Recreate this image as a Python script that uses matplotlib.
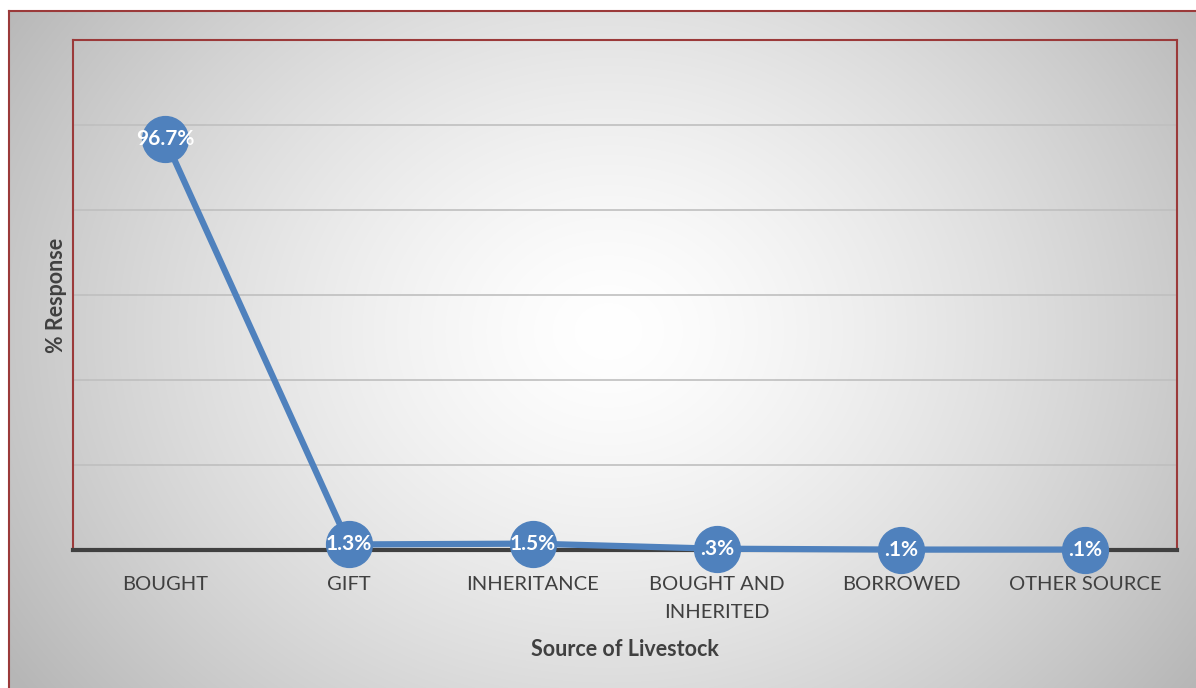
import numpy as np
import matplotlib
matplotlib.use("Agg")
import matplotlib.pyplot as plt

plt.rcParams['font.family'] = ['Lato', 'DejaVu Sans']

categories = ["BOUGHT", "GIFT", "INHERITANCE", "BOUGHT AND\nINHERITED", "BORROWED", "OTHER SOURCE"]
values = [96.7, 1.3, 1.5, 0.3, 0.1, 0.1]
value_labels = ["96.7%", "1.3%", "1.5%", ".3%", ".1%", ".1%"]

W, H = 1196, 688
fig = plt.figure(figsize=(W / 100, H / 100), dpi=100)
fig.patch.set_facecolor("white")

# radial grey-to-white background inside the chart frame
bg = fig.add_axes([8 / W, 0, 1 - 8 / W, 1 - 11 / H], zorder=-10)
yy, xx = np.mgrid[0:677, 0:1188]
cx, cy = 600, 320
r = np.sqrt((xx - cx) ** 2 + ((yy - cy) * 1.2) ** 2) / 660.0
shade = 1.0 - 0.25 * np.clip(r, 0, 1.1) ** 1.4
bg.imshow(np.dstack([shade] * 3), aspect="auto", extent=[0, 1, 0, 1], origin="upper")
bg.set_xlim(0, 1)
bg.set_ylim(0, 1)
bg.axis("off")
fig.add_artist(plt.Line2D([8.5 / W, 8.5 / W], [0, 1 - 11 / H], color="#9b3a3a", lw=1.5))
fig.add_artist(plt.Line2D([8.5 / W, 1], [1 - 11 / H, 1 - 11 / H], color="#9b3a3a", lw=1.5))

ax = fig.add_axes([73 / W, 1 - 550 / H, (1177 - 73) / W, (550 - 40) / H])
ax.patch.set_alpha(0)
x = np.arange(len(categories))
ax.set_xlim(-0.5, len(categories) - 0.5)
ax.set_ylim(0, 120)
ax.set_yticks(np.arange(20, 120, 20))
ax.yaxis.grid(True, color="#bfbfbf", lw=1.2)
ax.set_axisbelow(True)
ax.tick_params(axis="y", left=False, labelleft=False)
ax.tick_params(axis="x", bottom=False, pad=15, labelsize=14.5, labelcolor="#404040")
ax.set_xticks(x)
ax.set_xticklabels(categories, linespacing=1.8)

for side in ["top", "left", "right"]:
    ax.spines[side].set_color("#9b3a3a")
    ax.spines[side].set_linewidth(1.5)
ax.spines["bottom"].set_color("#404040")
ax.spines["bottom"].set_linewidth(3)

ax.plot(x, values, color="#4f81bd", lw=4.5, marker="o", markersize=33,
        markerfacecolor="#4f81bd", markeredgecolor="#4f81bd", clip_on=False, zorder=3)
for xi, v, lab in zip(x, values, value_labels):
    ax.text(xi, v, lab, ha="center", va="center", color="white", fontsize=15,
            fontweight="bold", zorder=4)

ax.set_ylabel("% Response", fontsize=15.5, fontweight="bold", color="#404040", labelpad=4)
ax.set_xlabel("Source of Livestock", fontsize=15.5, fontweight="bold", color="#404040", labelpad=13)

fig.savefig("out.png", dpi=100)
